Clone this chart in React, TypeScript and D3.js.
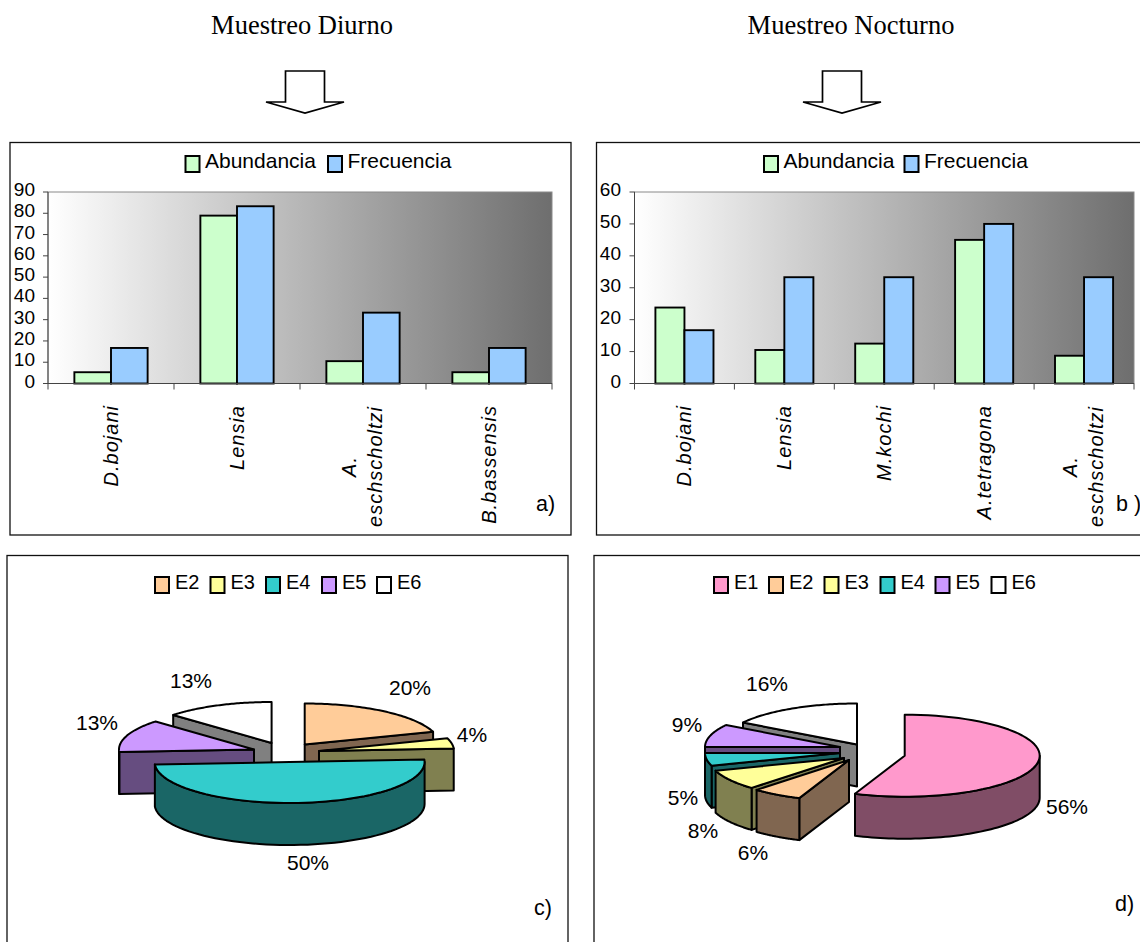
import React from "react";
import * as d3 from "d3";

// Diurnal sampling: species abundance and frequency
const dayCategories = [["D.bojani"], ["Lensia"], ["A.", "eschscholtzi"], ["B.bassensis"]];
const dayAbundance = [5.3, 78.9, 10.5, 5.3];
const dayFrequency = [16.7, 83.3, 33.3, 16.7];
const dayTicks = [0, 10, 20, 30, 40, 50, 60, 70, 80, 90];

// Nocturnal sampling: species abundance and frequency
const nightCategories = [["D.bojani"], ["Lensia"], ["M.kochi"], ["A.tetragona"], ["A.", "eschscholtzi"]];
const nightAbundance = [23.8, 10.5, 12.5, 45, 8.7];
const nightFrequency = [16.7, 33.3, 33.3, 50, 33.3];
const nightTicks = [0, 10, 20, 30, 40, 50, 60];

const seriesNames = ["Abundancia", "Frecuencia"];
const seriesColors = ["#CCFFCC", "#99CCFF"];

// Station shares for the two pies
const dayStations = ["E2", "E3", "E4", "E5", "E6"];
const dayShares = [20, 4, 50, 13, 13];
const nightStations = ["E1", "E2", "E3", "E4", "E5", "E6"];
const nightShares = [56, 6, 8, 5, 9, 16];

const stationTop: Record<string, string> = {
  E1: "#FF99CC", E2: "#FFCC99", E3: "#FFFF99", E4: "#33CCCC", E5: "#CC99FF", E6: "#FFFFFF",
};
const stationSide: Record<string, string> = {
  E1: "#804D66", E2: "#806650", E3: "#808050", E4: "#1A6666", E5: "#664D80", E6: "#808080",
};

const SANS = "'Liberation Sans', Arial, sans-serif";
const SERIF = "'Liberation Serif', 'Times New Roman', serif";
const PLOT_TOP = 192;
const PLOT_BOTTOM = 383.5;

function Arrow({ dx }: { dx: number }) {
  const pts = [[285.5, 71], [324.5, 71], [324.5, 102], [344, 102], [305, 113], [266, 102], [285.5, 102]];
  return (
    <polygon
      points={pts.map(([x, y]) => `${x + dx},${y}`).join(" ")}
      fill="#fff"
      stroke="#000"
      strokeWidth={1.7}
    />
  );
}

function Swatch({ x, fill }: { x: number; fill: string }) {
  return <rect x={x} y={0} width={14} height={16} fill={fill} stroke="#000" strokeWidth={2} />;
}

type BarProps = {
  id: string;
  left: number;
  right: number;
  maxValue: number;
  ticks: number[];
  categories: string[][];
  series: number[][];
  labelRight: number;
  legendX: number[];
};

function BarPanel({ id, left, right, maxValue, ticks, categories, series, labelRight, legendX }: BarProps) {
  const names = categories.map((c) => c.join(" "));
  const x = d3.scaleBand<string>().domain(names).range([left, right]);
  const inner = d3
    .scaleBand<number>()
    .domain(series.map((_, i) => i))
    .range([0, x.bandwidth()])
    .paddingInner(0)
    .paddingOuter(0.72);
  const y = d3.scaleLinear().domain([0, maxValue]).range([PLOT_BOTTOM, PLOT_TOP]);
  const boundaries = [...names.map((n) => x(n) as number), right];

  return (
    <g>
      <defs>
        <linearGradient id={id} x1="0" x2="1" y1="0" y2="0">
          <stop offset="0" stopColor="#ffffff" />
          <stop offset="1" stopColor="#6e6e6e" />
        </linearGradient>
      </defs>
      <rect x={left} y={PLOT_TOP} width={right - left} height={PLOT_BOTTOM - PLOT_TOP} fill={`url(#${id})`} stroke="#8a8a8a" strokeWidth={1} />
      {series.map((values, s) =>
        values.map((v, i) => (
          <rect
            key={`${s}-${i}`}
            x={(x(names[i]) as number) + (inner(s) as number)}
            y={y(v)}
            width={inner.bandwidth()}
            height={PLOT_BOTTOM - y(v)}
            fill={seriesColors[s]}
            stroke="#000"
            strokeWidth={1.9}
          />
        ))
      )}
      <line x1={left} x2={left} y1={PLOT_TOP} y2={PLOT_BOTTOM} stroke="#444" />
      <line x1={left} x2={right} y1={PLOT_BOTTOM} y2={PLOT_BOTTOM} stroke="#444" />
      {ticks.map((t) => (
        <g key={t}>
          <line x1={left - 5} x2={left} y1={y(t)} y2={y(t)} stroke="#444" />
          <text x={labelRight} y={y(t) + 4} textAnchor="end" fontFamily={SANS} fontSize={19} fill="#000">
            {t}
          </text>
        </g>
      ))}
      {boundaries.map((b, i) => (
        <line key={i} x1={b} x2={b} y1={PLOT_BOTTOM} y2={PLOT_BOTTOM + 6} stroke="#444" />
      ))}
      {categories.map((lines, i) => {
        const c = (x(names[i]) as number) + x.bandwidth() / 2;
        const common = { fontFamily: SANS, fontSize: 20, fontStyle: "italic", letterSpacing: 1, fill: "#000" };
        if (lines.length === 1) {
          return (
            <text key={i} {...common} textAnchor="end" transform={`translate(${c + 7},405) rotate(-90)`}>
              {lines[0]}
            </text>
          );
        }
        return (
          <g key={i}>
            <text {...common} textAnchor="middle" transform={`translate(${c - 7},466.5) rotate(-90)`}>
              {lines[0]}
            </text>
            <text {...common} textAnchor="middle" transform={`translate(${c + 19},466.5) rotate(-90)`}>
              {lines[1]}
            </text>
          </g>
        );
      })}
      <g transform="translate(0,156)">
        {seriesNames.map((name, s) => (
          <g key={name}>
            <Swatch x={legendX[s]} fill={seriesColors[s]} />
            <text x={legendX[s] + 19.5} y={11.5} fontFamily={SANS} fontSize={21} fill="#000">
              {name}
            </text>
          </g>
        ))}
      </g>
    </g>
  );
}

type Centre = { cx: number; cy: number };

const RX = 135;
const RY = 41;
const DEPTH = 42;

const ringPoint = (c: Centre, angle: number, drop = 0): [number, number] => [
  c.cx + RX * Math.sin(angle),
  c.cy - RY * Math.cos(angle) + drop,
];

const samples = (a0: number, a1: number) => d3.range(0, 61).map((k) => a0 + ((a1 - a0) * k) / 60);

const outline = d3.line<[number, number]>();

function Slice({ name, c, start, end }: { name: string; c: Centre; start: number; end: number }) {
  const apex: [number, number] = [c.cx, c.cy];
  const apexLow: [number, number] = [c.cx, c.cy + DEPTH];
  const stroke = { stroke: "#000", strokeWidth: 2, strokeLinejoin: "round" as const };
  const side = stationSide[name];

  // Cut faces turned towards the viewer
  const faces: [number, number][][] = [];
  if (Math.sin(start) < 0) {
    faces.push([apex, ringPoint(c, start), ringPoint(c, start, DEPTH), apexLow]);
  }
  if (Math.sin(end) > 1e-6) {
    faces.push([apex, ringPoint(c, end), ringPoint(c, end, DEPTH), apexLow]);
  }

  // Outer wall: only the front half of the rim shows
  const wallStart = Math.max(start, Math.PI / 2);
  const wallEnd = Math.min(end, (3 * Math.PI) / 2);
  const wall =
    wallEnd > wallStart
      ? [
          ...samples(wallStart, wallEnd).map((a) => ringPoint(c, a)),
          ...samples(wallStart, wallEnd).reverse().map((a) => ringPoint(c, a, DEPTH)),
        ]
      : null;

  const top = [apex, ...samples(start, end).map((a) => ringPoint(c, a))];

  return (
    <g>
      {faces.map((f, i) => (
        <path key={i} d={(outline(f) as string) + "Z"} fill={side} {...stroke} />
      ))}
      {wall && <path d={(outline(wall) as string) + "Z"} fill={side} {...stroke} />}
      <path d={(outline(top) as string) + "Z"} fill={stationTop[name]} {...stroke} />
    </g>
  );
}

type PieProps = {
  stations: string[];
  shares: number[];
  centres: Record<string, Centre>;
  order: string[];
  labels: Record<string, [number, number]>;
  legendX: number[];
};

function PiePanel({ stations, shares, centres, order, labels, legendX }: PieProps) {
  const arcs = d3.pie<number>().sort(null)(shares);
  const byName = new Map(stations.map((s, i) => [s, arcs[i]]));
  return (
    <g>
      {order.map((name) => {
        const a = byName.get(name)!;
        return <Slice key={name} name={name} c={centres[name]} start={a.startAngle} end={a.endAngle} />;
      })}
      {stations.map((name, i) => (
        <text
          key={name}
          x={labels[name][0]}
          y={labels[name][1]}
          textAnchor="middle"
          fontFamily={SANS}
          fontSize={21}
          fill="#000"
        >
          {shares[i]}%
        </text>
      ))}
      <g transform="translate(0,577)">
        {stations.map((name, i) => (
          <g key={name}>
            <Swatch x={legendX[i]} fill={stationTop[name]} />
            <text x={legendX[i] + 20} y={12} fontFamily={SANS} fontSize={20} fill="#000">
              {name}
            </text>
          </g>
        ))}
      </g>
    </g>
  );
}

const frameStroke = { fill: "none", stroke: "#111", strokeWidth: 1.3 };

export default function App() {
  return (
    <svg
      width={1140}
      height={942}
      viewBox="0 0 1140 942"
      style={{ position: "absolute", left: 0, top: 0, display: "block", background: "#fff" }}
    >
      <text x={302} y={34} textAnchor="middle" fontFamily={SERIF} fontSize={26.5} fill="#000">
        Muestreo Diurno
      </text>
      <text x={851} y={34} textAnchor="middle" fontFamily={SERIF} fontSize={26.5} fill="#000">
        Muestreo Nocturno
      </text>
      <Arrow dx={0} />
      <Arrow dx={537} />

      <rect x={10} y={142.5} width={561} height={392.5} {...frameStroke} />
      <rect x={596.5} y={142.5} width={600} height={392.5} {...frameStroke} />
      <rect x={7} y={555.5} width={561} height={420} {...frameStroke} />
      <rect x={594} y={555.5} width={600} height={420} {...frameStroke} />

      <BarPanel
        id="shadeDay"
        left={48}
        right={552}
        maxValue={90}
        ticks={dayTicks}
        categories={dayCategories}
        series={[dayAbundance, dayFrequency]}
        labelRight={35}
        legendX={[185.5, 328]}
      />
      <BarPanel
        id="shadeNight"
        left={634.5}
        right={1134}
        maxValue={60}
        ticks={nightTicks}
        categories={nightCategories}
        series={[nightAbundance, nightFrequency]}
        labelRight={621}
        legendX={[764, 904.5]}
      />

      <PiePanel
        stations={dayStations}
        shares={dayShares}
        centres={{
          E2: { cx: 304.7, cy: 744.5 },
          E3: { cx: 319, cy: 751 },
          E4: { cx: 289.6, cy: 762 },
          E5: { cx: 254, cy: 749.5 },
          E6: { cx: 271.6, cy: 743 },
        }}
        order={["E6", "E2", "E5", "E3", "E4"]}
        labels={{ E2: [410, 695], E3: [472, 742], E4: [308, 870], E5: [97, 730], E6: [191, 688] }}
        legendX={[155, 210.5, 266, 322, 377]}
      />
      <PiePanel
        stations={nightStations}
        shares={nightShares}
        centres={{
          E1: { cx: 904.7, cy: 755.7 },
          E2: { cx: 849, cy: 760 },
          E3: { cx: 844, cy: 758 },
          E4: { cx: 840, cy: 753 },
          E5: { cx: 840, cy: 747 },
          E6: { cx: 857, cy: 744.5 },
        }}
        order={["E6", "E5", "E4", "E3", "E2", "E1"]}
        labels={{
          E1: [1067, 814],
          E2: [753, 860],
          E3: [703, 838],
          E4: [683, 805],
          E5: [687, 732],
          E6: [767, 691],
        }}
        legendX={[714, 769, 824.5, 880.5, 935.5, 991.5]}
      />

      <g fontFamily={SANS} fontSize={21.5} fill="#000">
        <text x={536} y={511}>a)</text>
        <text x={1116} y={511}>b )</text>
        <text x={534} y={915}>c)</text>
        <text x={1115} y={911}>d)</text>
      </g>
    </svg>
  );
}
